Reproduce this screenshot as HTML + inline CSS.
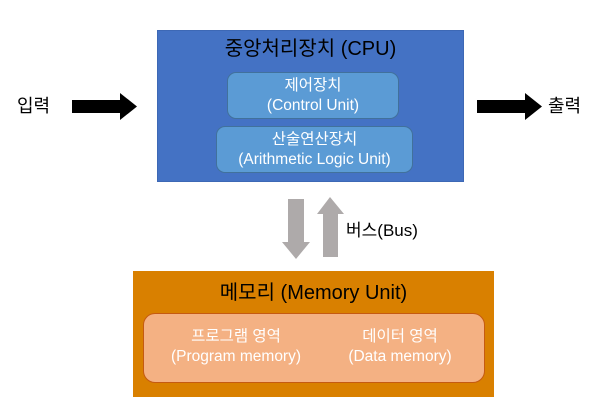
<!DOCTYPE html>
<html><head><meta charset="utf-8"><style>
body{margin:0;width:605px;height:405px;background:#fff;position:relative;overflow:hidden;font-family:"Liberation Sans","Noto Sans CJK KR",sans-serif}
div{position:absolute;box-sizing:border-box}
.t{text-align:center;white-space:nowrap}
.in{color:#fff;font-size:15.5px;line-height:20px;text-align:center;white-space:nowrap;display:flex;flex-direction:column;justify-content:center}
</style></head><body>
<div style="left:157px;top:30px;width:307px;height:152px;background:#4472c4;border:1px solid #3d68b5"></div>
<div class="t" style="left:157px;top:36px;width:307px;font-size:20px;line-height:26px;color:#000">중앙처리장치 (CPU)</div>
<div class="in" style="left:227px;top:72px;width:172px;height:47px;background:#5b9bd5;border:1px solid #41719c;border-radius:9px">제어장치<br>(Control Unit)</div>
<div class="in" style="left:216px;top:126px;width:197px;height:47px;background:#5b9bd5;border:1px solid #41719c;border-radius:9px">산술연산장치<br>(Arithmetic Logic Unit)</div>

<div style="left:133px;top:271px;width:361px;height:126px;background:#d98000"></div>
<div class="t" style="left:133px;top:280px;width:361px;font-size:20px;line-height:26px;color:#000">메모리 (Memory Unit)</div>
<div style="left:143px;top:313px;width:342px;height:70px;background:#f4b183;border:1px solid #c55a11;border-radius:12px"></div>
<div class="in" style="left:150px;top:322px;width:172px;height:50px">프로그램 영역<br>(Program memory)</div>
<div class="in" style="left:320px;top:322px;width:160px;height:50px">데이터 영역<br>(Data memory)</div>

<svg style="position:absolute;left:0;top:0" width="605" height="405">
<polygon points="288,199 304,199 304,242 310,242 296,259 282,242 288,242" fill="#aeaaaa"/>
<polygon points="323,257 338,257 338,214 344,214 330,197 317,214 323,214" fill="#aeaaaa"/>
<polygon points="72,100 120,100 120,93 137,106.5 120,120 120,113 72,113" fill="#000"/>
<polygon points="477,100 525,100 525,93 542,106.5 525,120 525,113 477,113" fill="#000"/>
</svg>
<div class="t" style="left:346px;top:220px;font-size:17px;line-height:22px">버스(Bus)</div>
<div class="t" style="left:17px;top:94px;font-size:18px;line-height:24px">입력</div>
<div class="t" style="left:548px;top:94px;font-size:18px;line-height:24px">출력</div>
</body></html>
